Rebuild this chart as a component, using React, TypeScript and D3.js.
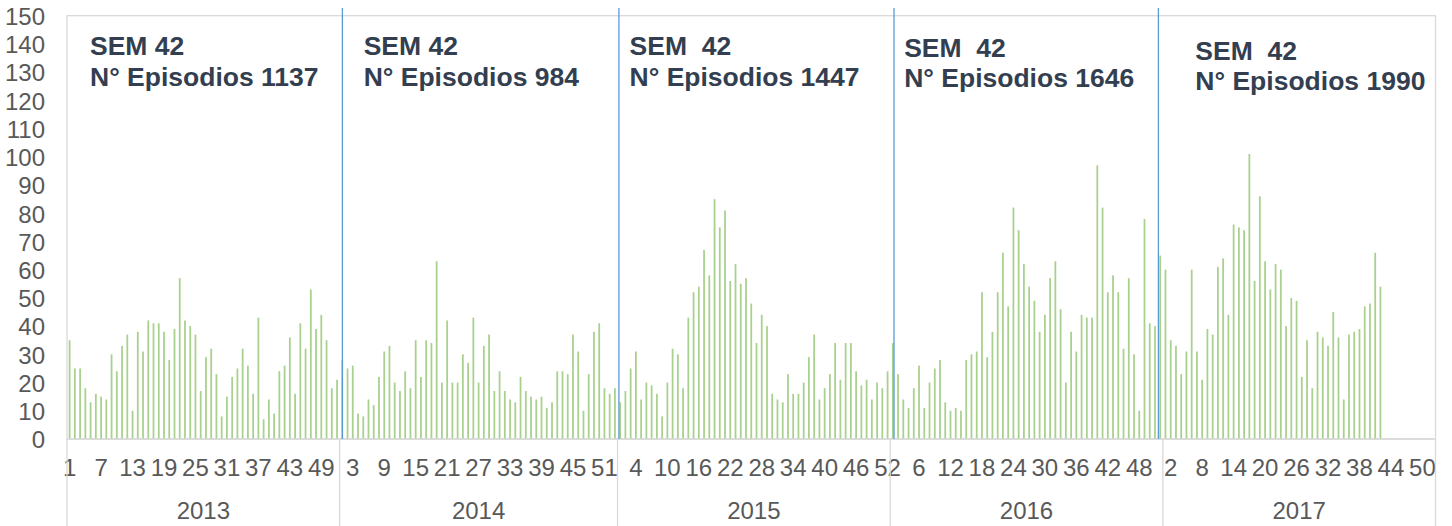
import React from "react";
import * as d3 from "d3";

const years = ["2013", "2014", "2015", "2016", "2017"];
const weeksPerYear = [52, 53, 52, 52, 52];

const values2013 = [35,25,25,18,13,16,15,14,30,24,33,37,10,38,31,42,41,41,38,28,39,57,42,40,37,17,29,32,23,8,15,22,25,32,26,16,43,7,14,9,24,26,36,16,41,32,53,39,44,35,18,21];
const values2014 = [28,25,26,9,8,14,12,22,31,33,20,17,24,18,35,22,35,34,63,20,42,20,20,30,27,43,20,33,37,17,24,17,14,13,22,17,15,14,15,11,13,24,24,23,37,31,10,23,38,41,18,16,18];
const values2015 = [13,17,25,31,14,20,19,16,8,20,32,30,18,43,52,54,67,58,85,75,81,56,62,55,57,48,34,44,40,16,14,13,23,16,16,20,29,37,14,18,23,34,21,34,34,24,19,21,14,20,18,24];
const values2016 = [34,23,14,11,18,26,11,20,25,28,13,10,11,10,28,30,31,52,29,38,52,66,47,82,74,62,54,49,38,44,57,63,46,20,38,31,44,43,43,97,82,52,58,52,32,57,30,10,78,41,40,65];
const values2017 = [60,35,33,23,31,60,31,21,39,37,61,64,44,76,75,74,101,56,86,63,53,62,60,40,50,49,22,35,18,38,36,33,45,36,14,37,38,39,47,48,66,54];

const seriesByYear = [values2013, values2014, values2015, values2016, values2017];

const semLabels = ["SEM 42", "SEM 42", "SEM  42", "SEM  42", "SEM  42"];
const episodeLabels = ["N° Episodios 1137", "N° Episodios 984", "N° Episodios 1447", "N° Episodios 1646", "N° Episodios 1990"];

// separator lines (in category units)
const separatorAt = [52.52, 105.26, 157.73, 208.15];

const yTicks = [0,10,20,30,40,50,60,70,80,90,100,110,120,130,140,150];

type Cat = { key: string; year: number; week: number; value: number | null };

const cats: Cat[] = [];
years.forEach((y, yi) => {
  for (let w = 1; w <= weeksPerYear[yi]; w++) {
    const v = seriesByYear[yi][w - 1];
    cats.push({ key: `${y}-${w}`, year: yi, week: w, value: v === undefined ? null : v });
  }
});

export default function App() {
  const W = 1452, H = 526;
  const left = 67, right = 1435.5, top = 15.7, bottom = 439;
  const x = d3.scaleBand<string>().domain(cats.map(c => c.key)).range([left, right]).paddingInner(0.66).paddingOuter(0.33);
  const step = (right - left) / cats.length;
  const xi = d3.scaleLinear().domain([0, cats.length]).range([left, right]);
  const y = d3.scaleLinear().domain([0, 150]).range([bottom, top]);
  const font = "'Liberation Sans', Arial, sans-serif";

  const groupStarts: number[] = [];
  let acc = 0;
  weeksPerYear.forEach(n => { groupStarts.push(acc); acc += n; });

  const textOffsets = [23, 24, 12, 14, 32.5];
  const textDy = [0, 0, 0, 1.5, 4.5];

  return (
    <svg width={W} height={H} style={{ position: "absolute", left: 0, top: 0, background: "#fff" }}>
      <rect x={left} y={top} width={right - left} height={bottom - top} fill="none" stroke="#d9d9d9" strokeWidth={1.3} />
      {cats.map(c => c.value === null ? null : (
        <rect key={c.key} x={x(c.key)} y={y(c.value)} width={x.bandwidth()} height={bottom - y(c.value)} fill="#a9d18e" />
      ))}
      <line x1={left} x2={right} y1={bottom} y2={bottom} stroke="#d9d9d9" strokeWidth={1.3} />
      {yTicks.map(t => (
        <text key={t} x={45} y={y(t) + 9.3} textAnchor="end" fontFamily={font} fontSize={24} fill="#595959">{t}</text>
      ))}
      {cats.map((c, i) => i % 6 === 0 ? (
        <text key={"l" + c.key} x={xi(i) + step / 2} y={476.4} textAnchor="middle" fontFamily={font} fontSize={24} fill="#595959">{c.week}</text>
      ) : null)}
      {groupStarts.concat([cats.length]).map((g, i) => (
        <line key={"s" + i} x1={xi(g)} x2={xi(g)} y1={bottom} y2={H} stroke="#d9d9d9" strokeWidth={1.3} />
      ))}
      {years.map((yr, i) => (
        <text key={yr} x={(xi(groupStarts[i]) + xi(groupStarts[i] + weeksPerYear[i])) / 2} y={519.3} textAnchor="middle" fontFamily={font} fontSize={24} fill="#595959">{yr}</text>
      ))}
      {separatorAt.map((s, i) => (
        <line key={"b" + i} x1={xi(s)} x2={xi(s)} y1={8} y2={bottom} stroke="#5b9bd5" strokeWidth={1.3} />
      ))}
      {years.map((yr, i) => (
        <g key={"t" + yr} fontFamily={font} fontSize={26.5} fontWeight="bold" fill="#333f50">
          <text x={xi(groupStarts[i]) + textOffsets[i]} y={55 + textDy[i]} style={{ whiteSpace: "pre" }}>{semLabels[i]}</text>
          <text x={xi(groupStarts[i]) + textOffsets[i]} y={85.5 + textDy[i]}>{episodeLabels[i]}</text>
        </g>
      ))}
    </svg>
  );
}
